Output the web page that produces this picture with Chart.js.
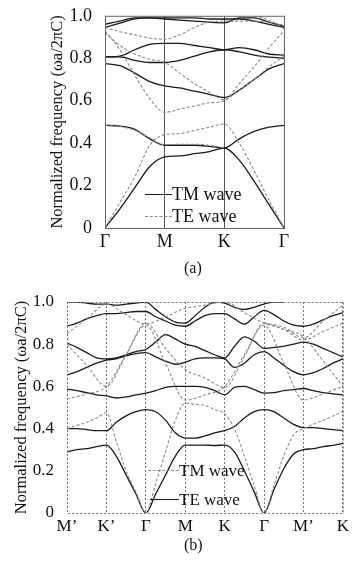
<!DOCTYPE html>
<html>
<head>
<meta charset="utf-8">
<script src="https://cdn.jsdelivr.net/npm/chart.js@4.4.1/dist/chart.umd.min.js"></script>
<style>
  body { margin: 0; background: #fff; }
  #wrap { position: relative; width: 352px; height: 565px; font-family: "Liberation Serif", "DejaVu Serif", serif; color: #111; }
  canvas { position: absolute; left: 0; }
  .lab { position: absolute; white-space: nowrap; line-height: 1; }
  .key { position: absolute; height: 0; }
</style>
</head>
<body>
<div id="wrap">
  <canvas id="chartA" width="352" height="258" style="top:0"></canvas>
  <canvas id="chartB" width="352" height="270" style="top:270px"></canvas>

  <div class="key" style="left:145px; top:194px; width:27px; border-top:1.4px solid #1a1a1a"></div>
  <div class="lab" style="left:172px; top:185px; font-size:18px">TM wave</div>
  <div class="key" style="left:145px; top:216px; width:27px; border-top:1.6px dashed #8a8a8a"></div>
  <div class="lab" style="left:172px; top:207px; font-size:18px">TE wave</div>
  <div class="lab" style="left:184px; top:260px; font-size:16px">(a)</div>

  <div class="key" style="left:148px; top:470px; width:31px; border-top:1.4px dashed #8a8a8a"></div>
  <div class="lab" style="left:179px; top:462px; font-size:17px">TM wave</div>
  <div class="key" style="left:150px; top:499px; width:29px; border-top:1.4px solid #1a1a1a"></div>
  <div class="lab" style="left:179px; top:491px; font-size:17px">TE wave</div>
  <div class="lab" style="left:184px; top:537px; font-size:16px">(b)</div>
</div>
<script>
// ===== (a) k-path e bandas
const kTicksA = [0, 1, 2, 3];
const kLabelsA = ['Γ', 'M', 'K', 'Γ'];
const kGridA = [0, 0.25, 0.5, 0.75, 1, 1.25, 1.5, 1.75, 2, 2.25, 2.5, 2.75, 3];

// TM (black)
const tmA1 = [0, 0.09, 0.19, 0.29, 0.335, 0.34, 0.35, 0.36, 0.377, 0.32, 0.22, 0.11, 0];
const tmA2 = [0.484, 0.48, 0.465, 0.42, 0.39, 0.39, 0.39, 0.385, 0.377, 0.42, 0.455, 0.475, 0.484];
const tmA3 = [0.775, 0.765, 0.73, 0.69, 0.67, 0.66, 0.645, 0.63, 0.615, 0.65, 0.70, 0.75, 0.775];
const tmA4 = [0.806, 0.806, 0.79, 0.78, 0.78, 0.79, 0.81, 0.83, 0.84, 0.83, 0.815, 0.805, 0.80];
const tmA5 = [0.806, 0.81, 0.84, 0.865, 0.87, 0.87, 0.86, 0.85, 0.84, 0.85, 0.84, 0.82, 0.815];
const tmA6 = [0.945, 0.965, 0.985, 0.99, 0.985, 0.98, 0.975, 0.97, 0.967, 0.99, 0.99, 0.97, 0.95];
const tmA7 = [0.96, 0.975, 0.99, 0.99, 0.99, 0.99, 0.99, 0.985, 0.985, 0.985, 0.975, 0.96, 0.945];
// TE (grey)
const teA1 = [0, 0.12, 0.24, 0.39, 0.44, 0.445, 0.46, 0.475, 0.49, 0.40, 0.27, 0.13, 0];
const teA2 = [0.484, 0.478, 0.46, 0.425, 0.392, 0.395, 0.395, 0.39, 0.377, null, null, null, null];
const teA3 = [0.93, 0.84, 0.72, 0.61, 0.545, 0.56, 0.575, 0.59, 0.60, 0.68, 0.76, 0.85, 0.93];
const teA4 = [0.92, 0.86, 0.82, 0.795, 0.78, 0.73, 0.68, 0.64, 0.605, 0.65, 0.70, 0.76, 0.81];
const teA5 = [0.945, 0.925, 0.91, 0.895, 0.89, 0.91, 0.945, 0.97, 0.975, 0.975, 0.975, 0.97, 0.955];
const teA6 = [null, null, null, null, null, null, null, null, null, null, 1.0, 0.98, 0.94];

// ===== (b)
const kTicksB = [0, 1, 2, 3, 4, 5, 6, 7];
const kLabelsB = ['M’', 'K’', 'Γ', 'M', 'K', 'Γ', 'M’', 'K'];
const kGridB = [0, 0.25, 0.5, 0.75, 1, 1.25, 1.5, 1.75, 2, 2.25, 2.5, 2.75, 3, 3.25, 3.5, 3.75,
  4, 4.25, 4.5, 4.75, 5, 5.25, 5.5, 5.75, 6, 6.25, 6.5, 6.75, 7];

// TE (black)
const teB1 = [0.29, 0.30, 0.305, 0.315, 0.322, 0.27, 0.18, 0.09, 0, 0.09, 0.18, 0.27, 0.322, 0.322, 0.322, 0.32,
  0.322, 0.29, 0.2, 0.1, 0, 0.11, 0.21, 0.28, 0.30, 0.305, 0.315, 0.32, 0.33];
const teB2 = [0.40, 0.40, 0.395, 0.39, 0.39, 0.43, 0.46, 0.48, 0.49, 0.48, 0.44, 0.38, 0.355, 0.355, 0.365, 0.38,
  0.39, 0.41, 0.45, 0.48, 0.49, 0.48, 0.45, 0.42, 0.405, 0.405, 0.40, 0.395, 0.39];
const teB3 = [0.587, 0.58, 0.57, 0.56, 0.555, 0.545, 0.55, 0.56, 0.568, 0.58, 0.595, 0.60, 0.60, 0.60, 0.595, 0.58,
  0.56, 0.595, 0.60, 0.585, 0.568, 0.57, 0.58, 0.585, 0.59, 0.58, 0.57, 0.565, 0.56];
const teB4 = [0.655, 0.67, 0.69, 0.71, 0.725, 0.73, 0.745, 0.755, 0.76, 0.74, 0.72, 0.705, 0.715, 0.73, 0.735, 0.735,
  0.73, 0.69, 0.71, 0.75, 0.765, 0.735, 0.70, 0.67, 0.655, 0.665, 0.685, 0.71, 0.73];
const teB5 = [0.805, 0.785, 0.76, 0.735, 0.73, 0.735, 0.75, 0.765, 0.775, 0.81, 0.845, 0.825, 0.80, 0.79, 0.77, 0.75,
  0.735, 0.79, 0.835, 0.815, 0.78, 0.785, 0.79, 0.80, 0.81, 0.80, 0.78, 0.76, 0.74];
const teB6 = [0.885, 0.90, 0.92, 0.935, 0.945, 0.945, 0.95, 0.955, 0.955, 0.93, 0.91, 0.89, 0.885, 0.91, 0.935, 0.945,
  0.945, 0.92, 0.895, 0.93, 0.96, 0.94, 0.91, 0.89, 0.885, 0.895, 0.915, 0.935, 0.95];
const teB7 = [1.0, 1.0, 0.995, 0.99, 0.99, 0.985, 0.99, 0.995, 1.0, 0.965, 0.93, 0.905, 0.90, 0.935, 0.975, 1.0,
  0.995, 0.975, 0.965, 0.975, 0.99, 1.0, 1.0, null, null, null, null, null, null];
// TM (grey)
const tmB1 = [0.40, 0.415, 0.43, 0.45, 0.475, 0.34, 0.2, 0.1, 0, 0.14, 0.29, 0.44, 0.52, 0.515, 0.51, 0.49,
  0.47, 0.40, 0.27, 0.13, 0, 0.13, 0.27, 0.37, 0.40, 0.42, 0.44, 0.46, 0.48];
const tmB2 = [0.54, null, 0.565, null, 0.60, null, 0.75, null, 0.89, null, 0.71, null, 0.535, null, 0.56, null,
  0.60, null, 0.75, null, 0.89, null, 0.71, null, 0.535, null, 0.565, null, 0.60];
const tmB3 = [0.80, null, 0.70, null, 0.60, null, 0.75, null, 0.90, null, 0.78, null, 0.68, null, 0.64, null,
  0.595, null, 0.74, null, 0.90, null, 0.87, null, 0.835, null, 0.72, null, 0.60];
const tmB4 = [0.85, null, 0.92, null, 0.99, null, 0.94, null, 0.895, null, 0.93, null, 0.97, null, 0.985, null,
  1.0, null, 0.95, null, 0.90, null, 0.87, null, 0.82, null, 0.86, null, 0.90];
const tmB5 = [null, null, null, null, null, null, null, null, null, null, null, null, null, null, null, null,
  null, null, null, null, 0.90, null, 0.88, null, 0.83, null, 0.91, null, 0.985];

// ===== estilos
const BLACK = '#1a1a1a';
const GREY = '#8a8a8a';
const serif = '"Liberation Serif", "DejaVu Serif", serif';

function band(grid, vals, dark) {
  return {
    data: vals.map((v, i) => ({ x: grid[i], y: v })),
    borderColor: dark ? BLACK : GREY,
    borderWidth: dark ? 1.3 : 1.1,
    borderDash: dark ? [] : [3, 2],
    pointRadius: 0,
    cubicInterpolationMode: 'monotone',
    spanGaps: true,
    fill: false
  };
}

const frame = (color, dash) => ({
  id: 'frame',
  afterDraw(chart) {
    const { ctx, chartArea: a } = chart;
    ctx.save();
    ctx.strokeStyle = color;
    ctx.lineWidth = 1;
    ctx.setLineDash(dash);
    ctx.strokeRect(a.left + 0.5, a.top + 0.5, a.right - a.left, a.bottom - a.top);
    ctx.restore();
  }
});

function makeChart(id, opts) {
  return new Chart(document.getElementById(id), {
    type: 'line',
    data: { datasets: opts.datasets },
    options: {
      responsive: false,
      animation: false,
      layout: { padding: opts.padding },
      plugins: { legend: { display: false }, tooltip: { enabled: false } },
      scales: {
        x: {
          type: 'linear', min: opts.kTicks[0], max: opts.kTicks[opts.kTicks.length - 1],
          afterBuildTicks: (axis) => { axis.ticks = opts.kTicks.map(v => ({ value: v })); },
          afterFit: (s) => { s.height = opts.xHeight; },
          ticks: {
            autoSkip: false, maxRotation: 0, padding: 3, color: '#111',
            font: { family: serif, size: opts.tickSize },
            callback: (v) => opts.kLabels[opts.kTicks.indexOf(v)]
          },
          grid: { color: opts.vColor, lineWidth: 1, drawTicks: false, tickBorderDash: opts.vDash },
          border: { display: false, dash: opts.vDash }
        },
        y: {
          min: 0, max: 1,
          afterBuildTicks: (axis) => { axis.ticks = [0, 0.2, 0.4, 0.6, 0.8, 1].map(v => ({ value: v })); },
          afterFit: (s) => { s.width = opts.yWidth; },
          ticks: {
            padding: 5, color: '#111',
            font: { family: serif, size: opts.tickSize },
            callback: (v) => v === 0 ? '0' : v.toFixed(1)
          },
          grid: { display: false },
          border: { display: false },
          title: {
            display: true, text: 'Normalized frequency (ωa/2πC)', color: '#111',
            font: { family: serif, size: 16.5 }, padding: { top: 4, bottom: 0 }
          }
        }
      }
    },
    plugins: [frame(opts.frameColor, opts.vDash)]
  });
}

// ===== painel (a)
makeChart('chartA', {
  kTicks: kTicksA, kLabels: kLabelsA, tickSize: 18,
  padding: { left: 44, right: 68, top: 15, bottom: 0 },
  yWidth: 61, xHeight: 30,
  vColor: '#555', vDash: [], frameColor: '#666',
  datasets: [
    band(kGridA, teA1, false), band(kGridA, teA2, false), band(kGridA, teA3, false),
    band(kGridA, teA4, false), band(kGridA, teA5, false), band(kGridA, teA6, false),
    band(kGridA, tmA1, true), band(kGridA, tmA2, true), band(kGridA, tmA3, true),
    band(kGridA, tmA4, true), band(kGridA, tmA5, true), band(kGridA, tmA6, true), band(kGridA, tmA7, true)
  ]
});

// ===== painel (b)
makeChart('chartB', {
  kTicks: kTicksB, kLabels: kLabelsB, tickSize: 17,
  padding: { left: 8, right: 7, top: 32, bottom: 0 },
  yWidth: 59, xHeight: 27,
  vColor: '#777', vDash: [2, 2], frameColor: '#777',
  datasets: [
    band(kGridB, tmB1, false), band(kGridB, tmB2, false), band(kGridB, tmB3, false),
    band(kGridB, tmB4, false), band(kGridB, tmB5, false),
    band(kGridB, teB1, true), band(kGridB, teB2, true), band(kGridB, teB3, true), band(kGridB, teB4, true),
    band(kGridB, teB5, true), band(kGridB, teB6, true), band(kGridB, teB7, true)
  ]
});
</script>
</body>
</html>
